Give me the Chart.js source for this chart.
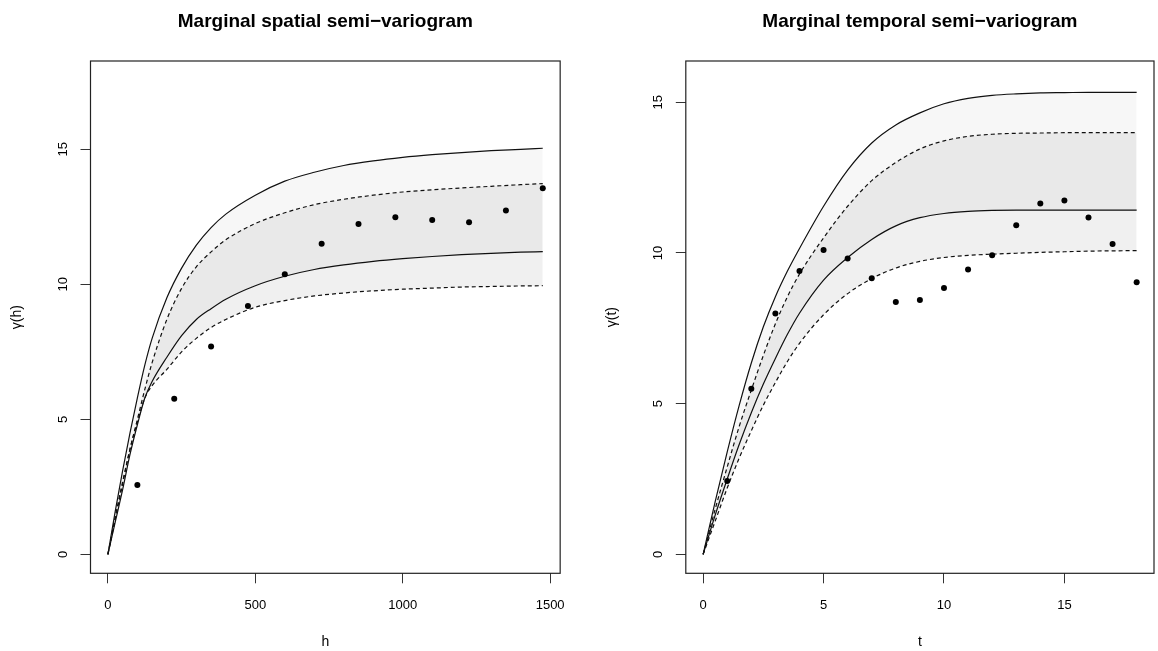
<!DOCTYPE html>
<html>
<head>
<meta charset="utf-8">
<title>Marginal semi-variograms</title>
<script src="https://cdn.jsdelivr.net/npm/chart.js@4.4.1/dist/chart.umd.min.js"></script>
<style>
    html, body { margin: 0; padding: 0; background: #fff; }
    #wrap { position: relative; width: 1158px; height: 651px; }
    .panel { position: absolute; top: 0; width: 579px; height: 651px; }
    #panel-spatial { left: 0; }
    #panel-temporal { left: 579px; }
</style>
</head>
<body>
<div id="wrap">
    <div class="panel" id="panel-spatial"><canvas id="chart-spatial"></canvas></div>
    <div class="panel" id="panel-temporal"><canvas id="chart-temporal"></canvas></div>
</div>
<script>
// ---- spatial panel ----
const spatialTitle = 'Marginal spatial semi−variogram';
const lagH = [100, 225, 350, 475, 600, 725, 850, 975, 1100, 1225, 1350, 1475];
const gammaH = [2.57, 5.76, 7.70, 9.20, 10.37, 11.50, 12.23, 12.48, 12.38, 12.30, 12.73, 13.56];
const curveH = [0, 25, 50, 75, 100, 125, 150, 200, 250, 300, 350, 400, 500, 600, 700, 800, 900, 1000, 1100, 1200, 1300, 1400, 1475];
const spatialUpper = [0, 1.6, 3.1, 4.5, 5.8, 7.0, 8.0, 9.5, 10.6, 11.45, 12.1, 12.6, 13.3, 13.82, 14.15, 14.4, 14.57, 14.7, 14.8, 14.88, 14.95, 15.0, 15.04];
const spatialUpperDash = [0, 1.4, 2.7, 3.9, 5.0, 6.1, 7.1, 8.7, 9.85, 10.65, 11.2, 11.65, 12.25, 12.65, 12.95, 13.15, 13.3, 13.42, 13.5, 13.57, 13.63, 13.69, 13.73];
const spatialFit = [0, 1.2, 2.4, 3.7, 4.8, 5.78, 6.4, 7.3, 8.1, 8.7, 9.1, 9.45, 9.95, 10.3, 10.55, 10.72, 10.85, 10.95, 11.03, 11.1, 11.15, 11.19, 11.21];
const spatialLowerDash = [0, 1.3, 2.6, 3.9, 4.9, 5.78, 6.25, 6.85, 7.5, 8.0, 8.4, 8.7, 9.15, 9.4, 9.57, 9.68, 9.76, 9.82, 9.86, 9.9, 9.92, 9.94, 9.95];
const spatialTicksX = [0, 500, 1000, 1500];
const spatialTicksY = [0, 5, 10, 15];

// ---- temporal panel ----
const temporalTitle = 'Marginal temporal semi−variogram';
const lagT = [1, 2, 3, 4, 5, 6, 7, 8, 9, 10, 11, 12, 13, 14, 15, 16, 17, 18];
const gammaT = [2.43, 5.49, 7.99, 9.40, 10.10, 9.82, 9.16, 8.37, 8.44, 8.84, 9.45, 9.92, 10.92, 11.64, 11.74, 11.18, 10.30, 9.03];
const curveT = [0, 0.5, 1, 1.5, 2, 2.5, 3, 3.5, 4, 5, 6, 7, 8, 9, 10, 11, 12, 13, 14, 15, 16, 17, 18];
const temporalUpper = [0, 1.75, 3.4, 4.95, 6.35, 7.55, 8.55, 9.4, 10.15, 11.55, 12.75, 13.65, 14.25, 14.65, 14.95, 15.13, 15.23, 15.28, 15.31, 15.32, 15.33, 15.33, 15.33];
const temporalUpperDash = [0, 1.5, 2.9, 4.25, 5.45, 6.6, 7.65, 8.55, 9.3, 10.5, 11.55, 12.4, 13.0, 13.45, 13.72, 13.87, 13.94, 13.97, 13.98, 13.99, 13.99, 13.99, 13.99];
const temporalFit = [0, 1.3, 2.5, 3.65, 4.7, 5.65, 6.5, 7.3, 8.0, 9.1, 9.85, 10.45, 10.9, 11.17, 11.31, 11.38, 11.41, 11.42, 11.42, 11.42, 11.42, 11.42, 11.42];
const temporalLowerDash = [0, 1.1, 2.2, 3.2, 4.1, 4.95, 5.7, 6.4, 7.0, 7.95, 8.65, 9.15, 9.5, 9.72, 9.85, 9.92, 9.96, 9.99, 10.02, 10.04, 10.06, 10.07, 10.08];
const temporalTicksX = [0, 5, 10, 15];
const temporalTicksY = [0, 5, 10, 15];

const FONT = "'Liberation Sans', Arial, Helvetica, sans-serif";

// box round the plot region, like R's box()
const plotBox = {
    id: 'plotBox',
    afterDraw(chart) {
        const { ctx, chartArea: a } = chart;
        ctx.save();
        ctx.strokeStyle = '#222';
        ctx.lineWidth = 1.2;
        ctx.strokeRect(a.left, a.top, a.right - a.left, a.bottom - a.top);
        ctx.restore();
    }
};

function xy(xs, ys) {
    return xs.map((x, i) => ({ x, y: ys[i] }));
}

function curve(xs, ys, dash, fillTo, bg) {
    return {
        data: xy(xs, ys),
        borderColor: '#111',
        borderWidth: 1.2,
        borderDash: dash,
        pointRadius: 0,
        cubicInterpolationMode: 'monotone',
        fill: fillTo,
        backgroundColor: bg || 'transparent'
    };
}

function makePanel(canvasId, p) {
    const tickGrid = { display: true, drawOnChartArea: false, drawTicks: true, tickLength: 10, color: '#333', lineWidth: 1 };
    const plain = v => String(v);
    return new Chart(document.getElementById(canvasId), {
        type: 'line',
        data: {
            datasets: [
                { data: xy(p.obsX, p.obsY), showLine: false, pointRadius: 3, pointBackgroundColor: '#000', pointBorderWidth: 0 },
                curve(p.curveX, p.upper, [], 3, 'rgba(0,0,0,0.03)'),
                curve(p.curveX, p.upperDash, [4, 3], 4, 'rgba(0,0,0,0.06)'),
                curve(p.curveX, p.fit, [], false),
                curve(p.curveX, p.lowerDash, [4, 3], false)
            ]
        },
        options: {
            responsive: true,
            maintainAspectRatio: false,
            animation: false,
            layout: { padding: { left: 0, right: p.padRight, top: 0, bottom: 0 } },
            plugins: {
                legend: { display: false },
                tooltip: { enabled: false },
                title: {
                    display: true,
                    text: p.title,
                    fullSize: false,
                    color: '#000',
                    font: { family: FONT, size: 19, weight: 'bold' },
                    padding: { top: 10.5, bottom: 27.7 }
                }
            },
            scales: {
                x: {
                    type: 'linear',
                    min: p.xMin,
                    max: p.xMax,
                    afterBuildTicks: s => { s.ticks = p.ticksX.map(v => ({ value: v })); },
                    afterFit: s => { s.height = 77.7; },
                    grid: tickGrid,
                    border: { display: false },
                    ticks: { color: '#000', font: { family: FONT, size: 13 }, padding: 14, maxRotation: 0, callback: plain },
                    title: { display: true, text: p.xLabel, color: '#000', font: { family: FONT, size: 14 }, padding: { top: 0, bottom: 0 } }
                },
                y: {
                    type: 'linear',
                    min: p.yMin,
                    max: p.yMax,
                    afterBuildTicks: s => { s.ticks = p.ticksY.map(v => ({ value: v })); },
                    afterFit: s => { s.width = p.yAxisWidth; },
                    grid: tickGrid,
                    border: { display: false },
                    ticks: { color: '#000', font: { family: FONT, size: 13 }, padding: 10.3, minRotation: 90, maxRotation: 90, crossAlign: 'center', callback: plain },
                    title: { display: true, text: p.yLabel, color: '#000', font: { family: FONT, size: 14 }, padding: { top: p.yAxisWidth - 82, bottom: 0 } }
                }
            }
        },
        plugins: [plotBox]
    });
}

makePanel('chart-spatial', {
    title: spatialTitle, xLabel: 'h', yLabel: 'γ(h)',
    obsX: lagH, obsY: gammaH, curveX: curveH,
    upper: spatialUpper, upperDash: spatialUpperDash, fit: spatialFit, lowerDash: spatialLowerDash,
    ticksX: spatialTicksX, ticksY: spatialTicksY,
    xMin: -59, xMax: 1534, yMin: -0.70, yMax: 18.27,
    yAxisWidth: 90.5, padRight: 17
});

makePanel('chart-temporal', {
    title: temporalTitle, xLabel: 't', yLabel: 'γ(t)',
    obsX: lagT, obsY: gammaT, curveX: curveT,
    upper: temporalUpper, upperDash: temporalUpperDash, fit: temporalFit, lowerDash: temporalLowerDash,
    ticksX: temporalTicksX, ticksY: temporalTicksY,
    xMin: -0.72, xMax: 18.72, yMin: -0.63, yMax: 16.37,
    yAxisWidth: 106.8, padRight: 0.4
});
</script>
</body>
</html>
